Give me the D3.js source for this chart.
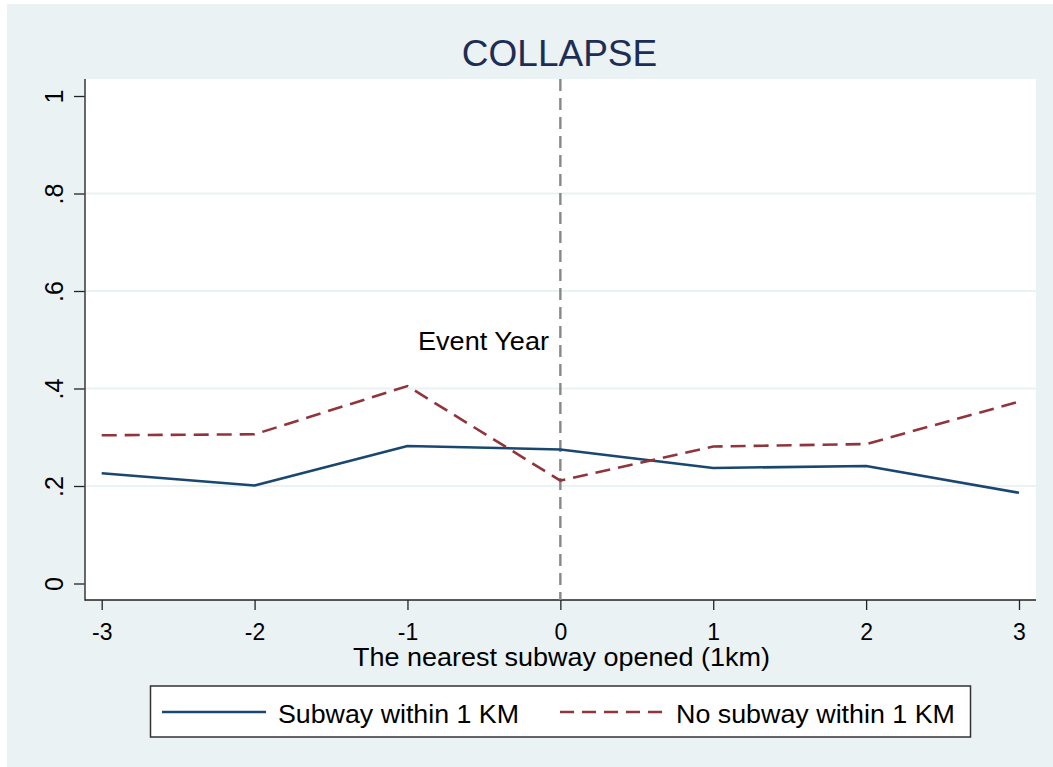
<!DOCTYPE html>
<html>
<head>
<meta charset="utf-8">
<script src="https://cdn.jsdelivr.net/npm/d3@7"></script>
<style>
  html, body { margin: 0; padding: 0; background: #ffffff; }
  svg { display: block; font-family: "Liberation Sans", Arial, sans-serif; }
</style>
</head>
<body>
<svg id="chart" width="1053" height="767"></svg>
<script>
// Event-time values
const years = [-3, -2, -1, 0, 1, 2, 3];
const subwayWithin = [0.226, 0.201, 0.282, 0.275, 0.237, 0.241, 0.186];
const noSubwayWithin = [0.304, 0.306, 0.405, 0.211, 0.281, 0.286, 0.373];
const yTicks = [0, 0.2, 0.4, 0.6, 0.8, 1];
const yTickLabels = ["0", ".2", ".4", ".6", ".8", "1"];
const xTickLabels = ["-3", "-2", "-1", "0", "1", "2", "3"];
const seriesNames = ["Subway within 1 KM", "No subway within 1 KM"];
const titleText = "COLLAPSE";
const xTitle = "The nearest subway opened (1km)";
const eventLabel = "Event Year";

const svg = d3.select("#chart");
const W = 1053, H = 767;

const plot = { left: 85, right: 1036, top: 79, bottom: 600 };
const x = d3.scaleLinear().domain([-3, 3]).range([101.7, 1019]);
const y = d3.scaleLinear().domain([0, 1]).range([583.5, 96]);

const bg = "#eaf2f3";
const blue = "#1a476f";
const red = "#90353b";

// Outer graph region
svg.append("rect").attr("x", 7).attr("y", 4).attr("width", W - 7).attr("height", H - 4).attr("fill", bg);

// Plot region
svg.append("rect")
  .attr("x", plot.left).attr("y", plot.top)
  .attr("width", plot.right - plot.left).attr("height", plot.bottom - plot.top)
  .attr("fill", "#ffffff");

// Horizontal grid
svg.append("g").selectAll("line")
  .data(yTicks.filter(d => d > 0 && d < 1))
  .join("line")
  .attr("x1", plot.left).attr("x2", plot.right)
  .attr("y1", d => y(d)).attr("y2", d => y(d))
  .attr("stroke", bg).attr("stroke-width", 2.2);

// Title
svg.append("text")
  .attr("x", 559.5).attr("y", 66)
  .attr("text-anchor", "middle")
  .attr("font-size", 37).attr("fill", "#1e2d55")
  .text(titleText);

// Y axis
const yAxis = d3.axisLeft(y)
  .tickValues(yTicks)
  .tickFormat((d, i) => yTickLabels[i])
  .tickSize(11).tickSizeOuter(0);
const gy = svg.append("g").attr("transform", `translate(${plot.left},0)`).call(yAxis);
gy.select(".domain").remove();
gy.selectAll(".tick line").attr("stroke", "#222").attr("stroke-width", 1.3);
gy.selectAll(".tick text")
  .attr("x", null).attr("dy", null)
  .attr("transform", "translate(-22,0) rotate(-90)")
  .attr("text-anchor", "middle")
  .attr("font-size", 25).attr("fill", "#000")
  .attr("font-family", "Liberation Sans, Arial, sans-serif");

// X axis
const xAxis = d3.axisBottom(x)
  .tickValues(years)
  .tickFormat((d, i) => xTickLabels[i])
  .tickSize(10).tickSizeOuter(0);
const gx = svg.append("g").attr("transform", `translate(0,${plot.bottom})`).call(xAxis);
gx.select(".domain").remove();
gx.selectAll(".tick line").attr("stroke", "#222").attr("stroke-width", 1.3);
gx.selectAll(".tick text")
  .attr("y", 40).attr("dy", null)
  .attr("font-size", 23).attr("fill", "#000")
  .attr("font-family", "Liberation Sans, Arial, sans-serif");

// Axis lines
svg.append("line").attr("x1", plot.left).attr("x2", plot.left)
  .attr("y1", plot.top).attr("y2", plot.bottom + 0.7)
  .attr("stroke", "#444").attr("stroke-width", 1.6);
svg.append("line").attr("x1", plot.left).attr("x2", plot.right)
  .attr("y1", plot.bottom).attr("y2", plot.bottom)
  .attr("stroke", "#222").attr("stroke-width", 1.6);

// X axis title
svg.append("text")
  .attr("x", 353).attr("y", 666)
  .attr("font-size", 25).attr("fill", "#000")
  .attr("textLength", 417).attr("lengthAdjust", "spacingAndGlyphs")
  .text(xTitle);

// Event marker at year 0
svg.append("line")
  .attr("x1", x(0)).attr("x2", x(0))
  .attr("y1", plot.top).attr("y2", plot.bottom)
  .attr("stroke", "#888888").attr("stroke-width", 2.4)
  .attr("stroke-dasharray", "12,7");
svg.append("text")
  .attr("x", 418).attr("y", 349.5)
  .attr("font-size", 26).attr("fill", "#000")
  .attr("textLength", 131).attr("lengthAdjust", "spacingAndGlyphs")
  .text(eventLabel);

// Series lines
const line = d3.line().x((d, i) => x(years[i])).y(d => y(d));
svg.append("path").datum(subwayWithin)
  .attr("d", line).attr("fill", "none")
  .attr("stroke", blue).attr("stroke-width", 2.6).attr("stroke-linejoin", "round");
svg.append("path").datum(noSubwayWithin)
  .attr("d", line).attr("fill", "none")
  .attr("stroke", red).attr("stroke-width", 2.6)
  .attr("stroke-dasharray", "15,8");

// Legend
const lg = svg.append("g");
lg.append("rect")
  .attr("x", 150.5).attr("y", 686).attr("width", 820).attr("height", 51)
  .attr("fill", "#ffffff").attr("stroke", "#333").attr("stroke-width", 1.5);
lg.append("line").attr("x1", 162).attr("x2", 266).attr("y1", 712).attr("y2", 712)
  .attr("stroke", blue).attr("stroke-width", 2.6);
lg.append("text").attr("x", 278).attr("y", 722.5)
  .attr("font-size", 26).attr("fill", "#000")
  .attr("textLength", 241).attr("lengthAdjust", "spacingAndGlyphs")
  .text(seriesNames[0]);
lg.append("line").attr("x1", 560).attr("x2", 662).attr("y1", 712).attr("y2", 712)
  .attr("stroke", red).attr("stroke-width", 2.6).attr("stroke-dasharray", "14,8");
lg.append("text").attr("x", 676).attr("y", 722.5)
  .attr("font-size", 26).attr("fill", "#000")
  .attr("textLength", 279).attr("lengthAdjust", "spacingAndGlyphs")
  .text(seriesNames[1]);
</script>
</body>
</html>
